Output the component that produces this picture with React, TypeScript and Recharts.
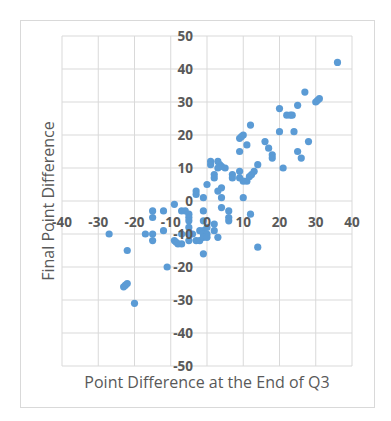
import React from 'react';
import { ScatterChart, Scatter, XAxis, YAxis, CartesianGrid } from 'recharts';

// point difference after Q3 vs final point difference
const q3Diff = [
  36, 27, 30, 30.5, 31, 25, 20, 22, 23, 23.5, 12, 20, 24, 28, 16, 17, 18, 18, 25, 26,
  21, 14, 10, 9, 9.5, 11, 9, 9, 9, 10, 11, 11.7, 12.3, 13, 10, 7, 7, 12, 14,
  1, 1, 3, 3.5, 4, 5, 3, 2, 2, 3, 4, 4, 4, 0, -3, -3, -1, -1, 6, 6, 6, 2, 2, 3,
  -15, -15, -12, -9, -7, -6, -5, -5, -5, -27, -17, -15, -15, -12, -9, -8, -7, -8.5, -7,
  -5, -5, -5, -4, -3, -2, -2, -1, -1, -1, 0, -1, 0, 0, -1, -11, -22, -23, -22.5, -22, -20,
];
const finalDiff = [
  42, 33, 30, 30.5, 31, 29, 28, 26, 26, 26, 23, 21, 21, 18, 18, 16, 14, 13, 15, 13,
  10, 11, 20, 19, 19.5, 17, 15, 9, 7, 6, 6, 7.4, 8, 9, 1, 8, 7, -4, -14,
  12, 11, 12, 11, 10.5, 10, 10, 8, 7, 3, 4, 1, -2, 5, 3, 2, 1, -3, -3, -5, -6, -7, -9, -11,
  -3, -5, -3, -1, -3, -3, -4, -5, -6, -10, -10, -10, -12, -9, -12, -13, -13, -12.5, -10,
  -8, -10, -12, -10, -12, -12, -9, -9, -6, -10, -10, -11, -8, -11, -16, -20, -15, -26, -25.5, -25, -31,
];
const xTicks = [-40, -30, -20, -10, 0, 10, 20, 30, 40];
const yTicks = [-50, -40, -30, -20, -10, 0, 10, 20, 30, 40, 50];

const data = q3Diff.map((x, i) => ({ x, y: finalDiff[i] }));

const W = 391;
const H = 421;
const M = { top: 36, right: 39, bottom: 54, left: 61 };
const PLOT_W = W - M.left - M.right - 1;
const PLOT_H = H - M.top - M.bottom - 1;
const FONT = '"Open Sans", "Liberation Sans", sans-serif';
const TEXT = '#595959';

// axes cross at 0, so tick labels sit on the zero lines
const renderXTick = (p: any) => (
  <text x={p.x} y={p.y - PLOT_H / 2 + 21} textAnchor="middle" dominantBaseline="central"
    fill={TEXT} fontSize={13.5} fontWeight="bold" fontFamily={FONT}>
    {p.payload.value}
  </text>
);
const renderYTick = (p: any) => (
  <text x={p.x + PLOT_W / 2 - 14} y={p.y} textAnchor="end" dominantBaseline="central"
    fill={TEXT} fontSize={13.5} fontWeight="bold" fontFamily={FONT}>
    {p.payload.value}
  </text>
);

const Dot = (p: any) => <circle cx={p.cx} cy={p.cy} r={3.6} fill="#5b9bd5" />;

export default function App() {
  return (
    <div style={{ position: 'absolute', left: 0, top: 0, width: W, height: H, background: '#fff' }}>
      <div style={{ position: 'absolute', left: 20, top: 20, width: 353, height: 386, border: '1px solid #d9d9d9' }} />
      <ScatterChart width={W} height={H} margin={M} style={{ position: 'absolute', left: 0, top: 0 }}>
        <CartesianGrid stroke="#d9d9d9" />
        <XAxis type="number" dataKey="x" domain={[-40, 40]} ticks={xTicks} height={1}
          axisLine={false} tickLine={false} tickSize={0} tickMargin={0} tick={renderXTick} interval={0} />
        <YAxis type="number" dataKey="y" domain={[-50, 50]} ticks={yTicks} width={1}
          axisLine={false} tickLine={false} tickSize={0} tickMargin={0} tick={renderYTick} interval={0} />
        <Scatter data={data} shape={<Dot />} isAnimationActive={false} />
      </ScatterChart>
      <div style={{ position: 'absolute', left: 0, width: 414, top: 374, textAlign: 'center', lineHeight: '16px',
        fontFamily: FONT, fontSize: 16, color: TEXT, whiteSpace: 'nowrap' }}>
        Point Difference at the End of Q3
      </div>
      <div style={{ position: 'absolute', left: 48, top: 201, transform: 'translate(-50%, -50%) rotate(-90deg)',
        fontFamily: FONT, fontSize: 16, color: TEXT, whiteSpace: 'nowrap' }}>
        Final Point Difference
      </div>
    </div>
  );
}
